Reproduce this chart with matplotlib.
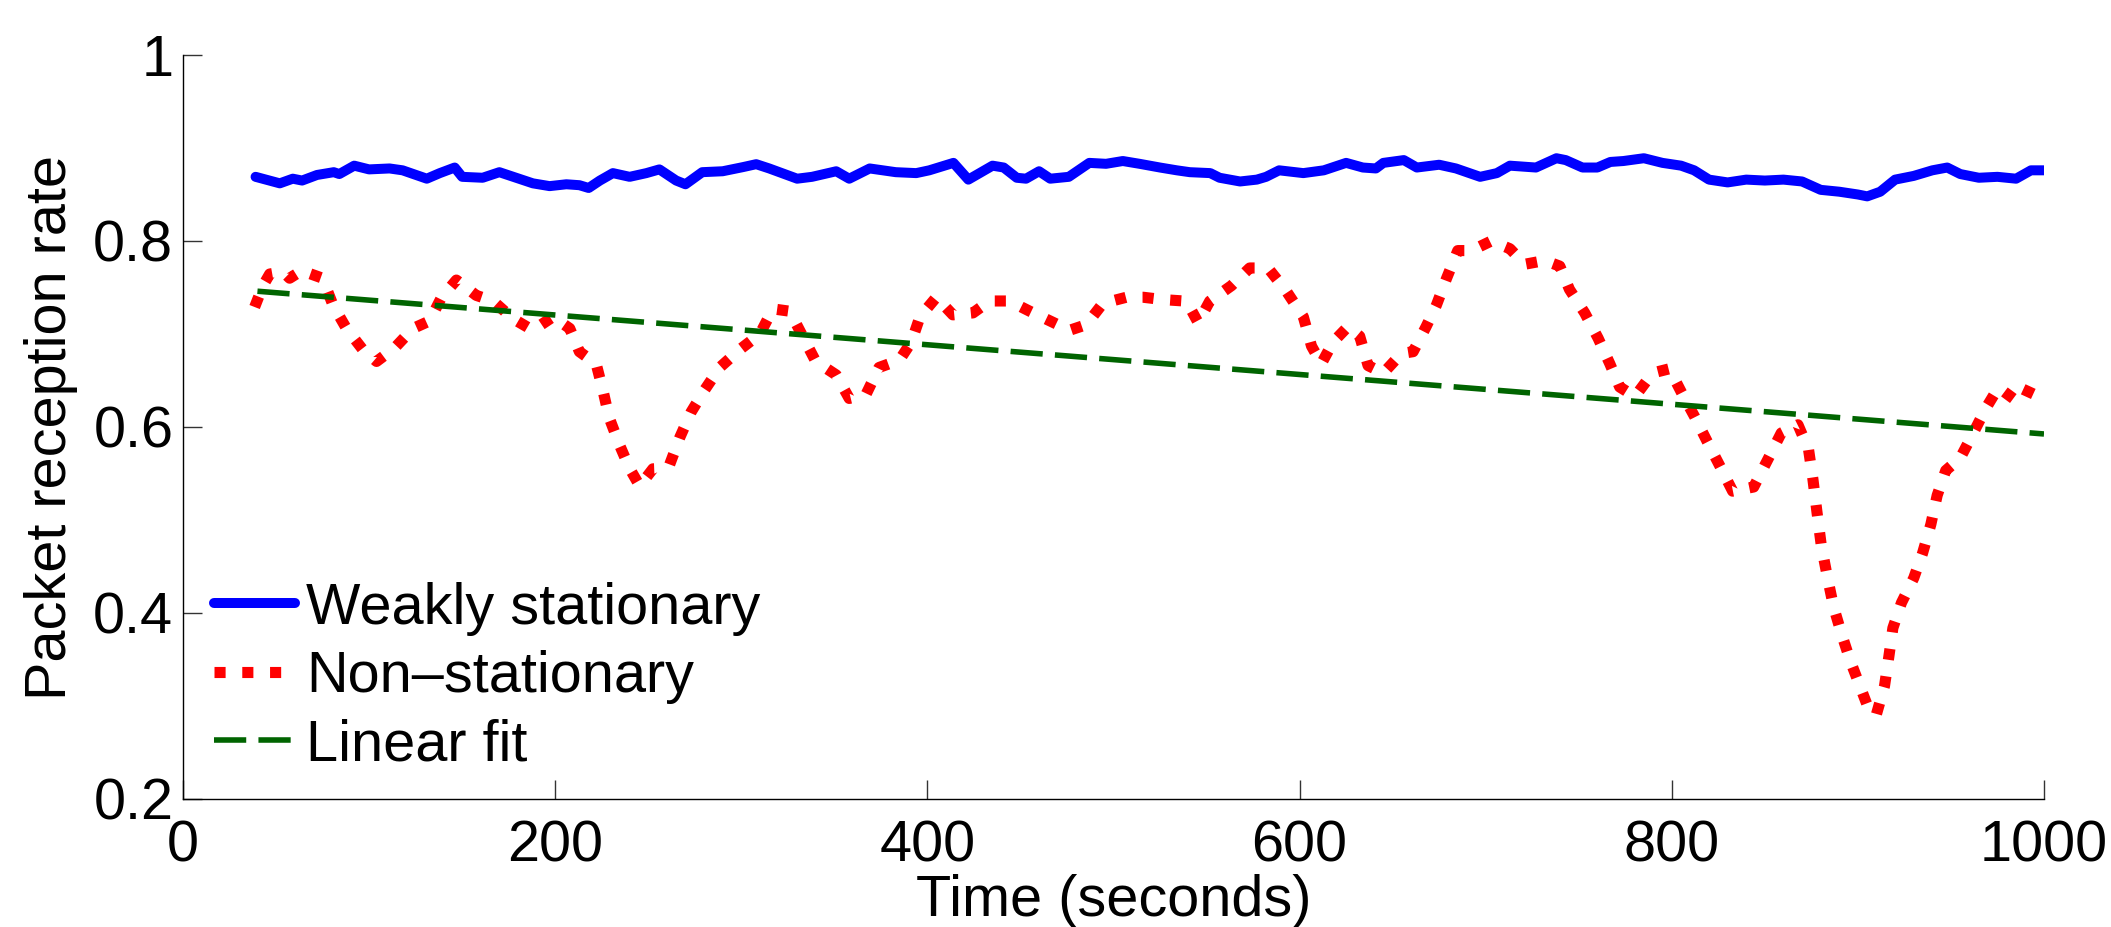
import matplotlib
matplotlib.use("Agg")
import matplotlib.pyplot as plt

plt.rcParams['font.family'] = ['Liberation Sans', 'DejaVu Sans']

# ---------------- data ----------------
weak_t = [39, 52, 59, 64, 72, 81, 84, 92, 100, 111, 118, 131, 138, 146, 150, 161, 170, 179,
          188, 197, 206, 213, 218, 224, 231, 240, 249, 256, 265, 270, 279, 290, 301, 308, 315,
          330, 338, 351, 358, 369, 383, 394, 401, 414, 422, 435, 441, 448, 453, 460, 466, 476,
          487, 496, 505, 514, 525, 534, 541, 552, 557, 568, 577, 582, 589, 602, 613, 625, 634,
          641, 645, 656, 663, 675, 684, 697, 706, 713, 727, 738, 743, 752, 760, 767, 774, 785,
          795, 805, 812, 820, 830, 840, 850, 860, 870, 880, 890, 900, 905, 912, 920, 930, 940,
          948, 955, 965, 975, 985, 993, 1000]
weak_v = [0.869, 0.862, 0.867, 0.865, 0.871, 0.874, 0.872, 0.881, 0.877, 0.878, 0.876, 0.867,
          0.873, 0.879, 0.869, 0.868, 0.874, 0.868, 0.862, 0.859, 0.861, 0.860, 0.857, 0.865,
          0.873, 0.869, 0.873, 0.877, 0.865, 0.861, 0.874, 0.875, 0.8795, 0.8826, 0.878, 0.867,
          0.869, 0.875, 0.867, 0.878, 0.874, 0.873, 0.876, 0.884, 0.866, 0.881, 0.879, 0.868,
          0.867, 0.875, 0.867, 0.869, 0.884, 0.883, 0.886, 0.883, 0.879, 0.876, 0.874, 0.873,
          0.868, 0.864, 0.866, 0.869, 0.876, 0.873, 0.876, 0.884, 0.879, 0.878, 0.884, 0.887,
          0.879, 0.882, 0.878, 0.869, 0.873, 0.881, 0.879, 0.889, 0.887, 0.879, 0.879, 0.885,
          0.886, 0.889, 0.884, 0.881, 0.876, 0.866, 0.863, 0.866, 0.865, 0.866, 0.864, 0.855,
          0.853, 0.850, 0.848, 0.853, 0.866, 0.870, 0.876, 0.879, 0.872, 0.868, 0.869, 0.867,
          0.876, 0.876]

non_t = [38.5, 43, 46.6, 53.7, 57.3, 64.5, 68, 75, 80.6, 87.8, 96.7, 104, 113.7, 123.6, 132.5,
         138.8, 146.9, 157.6, 166.6, 177.3, 188, 198.8, 207.8, 213, 222, 225.7, 229, 234.6, 240,
         245.4, 252.5, 258, 261.5, 267, 273, 280, 288.4, 299, 310, 317, 326, 333, 340, 351, 358,
         367, 374, 385, 391.4, 396, 404.8, 413.7, 424.5, 433.4, 444, 455, 465.7, 476.4, 485.4,
         494.3, 506.9, 516, 526.6, 539.2, 545.5, 551.7, 563.4, 573.2, 583, 593, 602, 606.4,
         611.7, 618, 626, 632.3, 636.8, 645, 654.7, 661, 668, 673.5, 679, 685, 692.3, 703, 713,
         721, 731.7, 739.8, 745, 753.2, 760.4, 766.7, 772, 776, 780.5, 789.6, 798.7, 805.5,
         812.3, 819, 825.9, 832.7, 844, 852, 858.8, 867.8, 873.5, 875.8, 878, 880.3, 883.7, 887,
         891.6, 896, 900.7, 905, 909.8, 914.3, 916.6, 918.8, 923.4, 930, 934.7, 939.2, 942.6,
         947.2, 955, 962, 968.7, 975.5, 984.6, 989, 993.6, 998]
non_v = [0.729, 0.752, 0.7645, 0.767, 0.760, 0.769, 0.765, 0.760, 0.731, 0.706, 0.683, 0.6705,
         0.685, 0.706, 0.714, 0.739, 0.758, 0.7415, 0.7355, 0.7165, 0.704, 0.7185, 0.706, 0.681,
         0.668, 0.639, 0.610, 0.5805, 0.5554, 0.5366, 0.555, 0.5554, 0.5596, 0.589, 0.616, 0.639,
         0.664, 0.683, 0.700, 0.727, 0.7245, 0.6976, 0.6705, 0.656, 0.6307, 0.635, 0.664, 0.672,
         0.6914, 0.7185, 0.7395, 0.7206, 0.7227, 0.7355, 0.7355, 0.7245, 0.7143, 0.704, 0.710,
         0.733, 0.7395, 0.7395, 0.737, 0.7353, 0.7122, 0.7353, 0.752, 0.771, 0.771, 0.7457,
         0.7185, 0.687, 0.668, 0.6914, 0.708, 0.6976, 0.666, 0.658, 0.679, 0.681, 0.708, 0.731,
         0.760, 0.7897, 0.7897, 0.800, 0.7917, 0.775, 0.779, 0.773, 0.748, 0.7227, 0.6955, 0.668,
         0.643, 0.638, 0.6335, 0.658, 0.6626, 0.636, 0.611, 0.5845, 0.5578, 0.531, 0.5355,
         0.5667, 0.5935, 0.6024, 0.5756, 0.5443, 0.5086, 0.473, 0.4376, 0.406, 0.375, 0.348,
         0.3235, 0.301, 0.290, 0.3215, 0.3527, 0.3839, 0.411, 0.4376, 0.464, 0.4953, 0.5265,
         0.5532, 0.5667, 0.5935, 0.620, 0.6425, 0.629, 0.627, 0.647, 0.656]

fit_t = [40, 1000]
fit_v = [0.746, 0.5925]

labels = ["Weakly stationary", "Non\u2013stationary", "Linear fit"]
xticks = [0, 200, 400, 600, 800, 1000]
yticks = [0.2, 0.4, 0.6, 0.8, 1.0]
yticklabels = ["0.2", "0.4", "0.6", "0.8", "1"]

# ---------------- figure ----------------
W, H = 2111, 927
fig = plt.figure(figsize=(W / 100, H / 100), dpi=100)
ax = fig.add_axes([183 / W, 1 - 799 / H, (2044 - 183) / W, (799 - 55) / H])

FS = 41.5
ax.plot(weak_t, weak_v, color='#0000ff', lw=7.2, solid_joinstyle='round',
        solid_capstyle='round', label=labels[0])
ax.plot(non_t, non_v, color='#ff0000', lw=8.0, linestyle=(0, (1.0, 1.5)),
        dash_capstyle='butt', label=labels[1])
ax.plot(fit_t, fit_v, color='#006400', lw=4.0, linestyle=(0, (5.8, 2.2)),
        dash_capstyle='butt', label=labels[2])

ax.set_xlim(0, 1000)
ax.set_ylim(0.2, 1.0)
ax.set_xticks(xticks)
ax.set_xticklabels([str(v) for v in xticks])
ax.set_yticks(yticks)
ax.set_yticklabels(yticklabels)

for s in ['top', 'right']:
    ax.spines[s].set_visible(False)
for s in ['left', 'bottom']:
    ax.spines[s].set_linewidth(1.0)
    ax.spines[s].set_color('black')

ax.tick_params(axis='both', direction='in', length=13.7, width=1.0, color='#333333',
               labelsize=FS)
ax.tick_params(axis='x', pad=15)
ax.tick_params(axis='y', pad=7)

ax.set_xlabel("Time (seconds)", fontsize=FS, labelpad=0)
ax.set_ylabel("Packet reception rate", fontsize=FS, labelpad=11)

leg = ax.legend(loc='center left', bbox_to_anchor=((214 - 183) / 1861, (799 - 677) / 744),
                frameon=False, fontsize=FS, handlelength=1.41, handletextpad=0.19,
                labelspacing=0.25, borderpad=0, borderaxespad=0)

fig.savefig("out.png", dpi=100)
